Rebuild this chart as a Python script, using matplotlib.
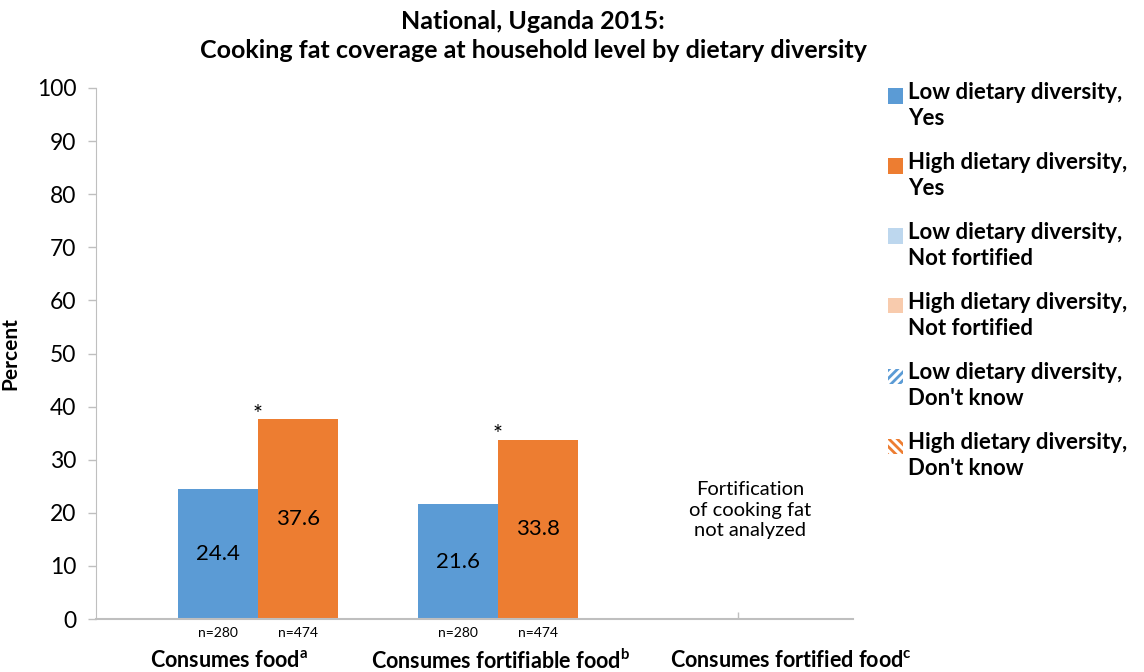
import matplotlib.pyplot as plt
from matplotlib.patches import Rectangle
import numpy as np

# Data.
Categories = ["Consumes food$^{\\mathregular{a}}$", "Consumes fortifiable food$^{\\mathregular{b}}$", "Consumes fortified food$^{\\mathregular{c}}$"]
CategoryLabelX = [-0.12, 1.01, 2.22] # Label centres, in category units (not centred on the bar groups in the original).
LowYes = [24.4, 21.6]
HighYes = [37.6, 33.8]
LowN = ["n=280", "n=280"]
HighN = ["n=474", "n=474"]
Starred = [True, True] # Significant difference marker on the high diversity bar.
LegendLabels = ["Low dietary diversity,\nYes", "High dietary diversity,\nYes",
	"Low dietary diversity,\nNot fortified", "High dietary diversity,\nNot fortified",
	"Low dietary diversity,\nDon't know", "High dietary diversity,\nDon't know"]
Note = "Fortification\nof cooking fat\nnot analyzed"

Blue = "#5B9BD5"
Orange = "#ED7D31"
LightBlue = "#BDD7EE"
LightOrange = "#F8CBAD"
Grey = "#BFBFBF"

plt.rcParams['font.family'] = ['Lato', 'DejaVu Sans']
plt.rcParams['hatch.linewidth'] = 2.0

Fig = plt.figure(figsize = (11.44, 6.72), dpi = 100)
Ax = Fig.add_axes([96/1144, 1 - 619/672, (853 - 96)/1144, (619 - 88)/672])

Width = 1/3
X = np.arange(len(LowYes))
Ax.bar(X - Width/2, LowYes, Width, color = Blue)
Ax.bar(X + Width/2, HighYes, Width, color = Orange)

for i in range(len(LowYes)):
	Ax.text(X[i] - Width/2, LowYes[i]/2, f"{LowYes[i]:.1f}", ha = "center", va = "center", fontsize = 16)
	Ax.text(X[i] + Width/2, HighYes[i]/2, f"{HighYes[i]:.1f}", ha = "center", va = "center", fontsize = 16)
	if Starred[i]:
		Ax.text(X[i], HighYes[i] - 1.0, "*", ha = "center", va = "bottom", fontsize = 17)
	Ax.text(X[i] - Width/2, -2.7, LowN[i], ha = "center", va = "center", fontsize = 10)
	Ax.text(X[i] + Width/2, -2.7, HighN[i], ha = "center", va = "center", fontsize = 10)

for Label, LabelX in zip(Categories, CategoryLabelX):
	Ax.text(LabelX, -7.8, Label, ha = "center", va = "center", fontsize = 15.5, fontweight = "bold")

Ax.text(2.05, 20.5, Note, ha = "center", va = "center", fontsize = 14.5, linespacing = 1.25)

Ax.set_xlim(-0.675, 2.479)
Ax.set_ylim(0, 100)
Ax.set_yticks(range(0, 101, 10))
Ax.set_xticks([2])
Ax.set_xticklabels([])
Ax.tick_params(axis = "y", labelsize = 16.5, length = 6, color = Grey, width = 1, pad = 8)
Ax.tick_params(axis = "x", length = 5, color = Grey, width = 1, direction = "in")
Ax.spines["top"].set_visible(False)
Ax.spines["right"].set_visible(False)
Ax.spines["left"].set_color(Grey)
Ax.spines["bottom"].set_color(Grey)
Ax.spines["bottom"].set_linewidth(1.5)
Ax.set_ylabel("Percent", fontsize = 15, fontweight = "bold", labelpad = 12)

Fig.suptitle("National, Uganda 2015:\nCooking fat coverage at household level by dietary diversity",
	x = 533/1144, y = 0.985, fontsize = 18, fontweight = "bold", linespacing = 1.3)

# Legend drawn by hand so the swatch lines up with the first line of each label.
Handles = [dict(facecolor = Blue), dict(facecolor = Orange),
	dict(facecolor = LightBlue), dict(facecolor = LightOrange),
	dict(facecolor = "white", edgecolor = Blue, hatch = "////", linewidth = 0),
	dict(facecolor = "white", edgecolor = Orange, hatch = "\\\\\\\\", linewidth = 0)]
for i, (Label, Style) in enumerate(zip(LegendLabels, Handles)):
	YCentre = 1 - (96 + 70*i)/672
	Fig.add_artist(Rectangle((888/1144, YCentre - 7.5/672), 15/1144, 15/672, transform = Fig.transFigure, **Style))
	Fig.text(908/1144, YCentre + 14/672, Label, ha = "left", va = "top", fontsize = 16,
		fontweight = "bold", linespacing = 1.3)

Fig.savefig("out.png", dpi = 100)
